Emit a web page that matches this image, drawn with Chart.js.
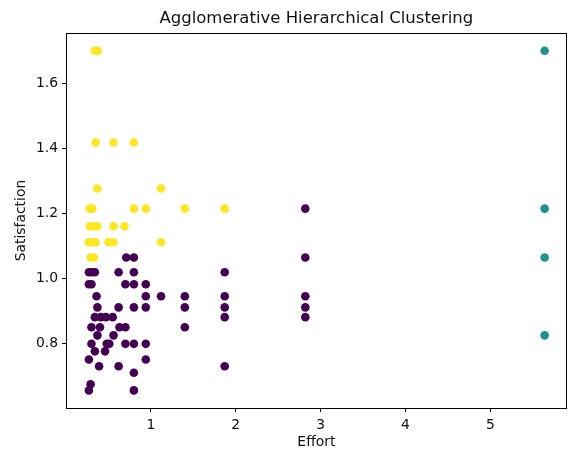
<!DOCTYPE html>
<html>
<head>
<meta charset="utf-8">
<script src="https://cdn.jsdelivr.net/npm/chart.js@4/dist/chart.umd.min.js"></script>
<style>
  html, body { margin: 0; padding: 0; background: #fff; }
  #wrap { width: 571px; height: 449px; }
</style>
</head>
<body>
<div id="wrap"><canvas id="chart"></canvas></div>
<script>
// cluster 0 (purple)
const effort0 = [0.71, 0.80, 2.82, 2.82,
  0.27, 0.30, 0.34, 0.62, 0.80, 1.87,
  0.27, 0.30, 0.70, 0.80, 0.94,
  0.36, 0.94, 1.12, 1.40, 1.87, 2.82,
  0.37, 0.62, 0.80, 0.94, 1.40, 1.87, 2.82,
  0.34, 0.41, 0.47, 0.55, 1.87, 2.82,
  0.30, 0.40, 0.63, 0.70, 1.40,
  0.37, 0.56,
  0.30, 0.48, 0.51, 0.70, 0.80, 0.94,
  0.34, 0.46,
  0.27, 0.94,
  0.39, 0.62, 1.87,
  0.80,
  0.29,
  0.27, 0.80];
const satisfaction0 = [1.065, 1.065, 1.065, 1.215,
  1.02, 1.02, 1.02, 1.02, 1.02, 1.02,
  0.983, 0.983, 0.983, 0.983, 0.983,
  0.946, 0.946, 0.946, 0.946, 0.946, 0.946,
  0.912, 0.912, 0.912, 0.912, 0.912, 0.912, 0.912,
  0.882, 0.882, 0.882, 0.882, 0.882, 0.882,
  0.851, 0.851, 0.851, 0.851, 0.851,
  0.826, 0.826,
  0.80, 0.80, 0.80, 0.80, 0.80, 0.80,
  0.777, 0.777,
  0.752, 0.752,
  0.731, 0.731, 0.731,
  0.711,
  0.676,
  0.657, 0.657];

// cluster 1 (teal)
const effort1 = [5.64, 5.64, 5.64, 5.64];
const satisfaction1 = [1.70, 1.215, 1.065, 0.826];

// cluster 2 (yellow)
const effort2 = [0.34, 0.375,
  0.35, 0.56, 0.80,
  0.37, 1.12,
  0.28, 0.31, 0.80, 0.94, 1.40, 1.87,
  0.28, 0.33, 0.37, 0.56, 0.69,
  0.27, 0.31, 0.35, 0.50, 0.56, 1.12,
  0.29, 0.33];
const satisfaction2 = [1.70, 1.70,
  1.418, 1.418, 1.418,
  1.277, 1.277,
  1.215, 1.215, 1.215, 1.215, 1.215, 1.215,
  1.161, 1.161, 1.161, 1.161, 1.161,
  1.112, 1.112, 1.112, 1.112, 1.112, 1.112,
  1.065, 1.065];

const xTicks = [1, 2, 3, 4, 5];
const yTicks = [0.8, 1.0, 1.2, 1.4, 1.6];
const colors = ['#440154', '#21918c', '#fde725'];

function toPoints(xs, ys) {
  return xs.map((x, i) => ({ x: x, y: ys[i] }));
}

const frame = {
  id: 'frame',
  afterDatasetsDraw(chart) {
    const a = chart.chartArea;
    const ctx = chart.ctx;
    ctx.save();
    ctx.strokeStyle = '#000';
    ctx.lineWidth = 1;
    ctx.strokeRect(Math.round(a.left) + 0.5, Math.round(a.top) + 0.5,
      Math.round(a.right - a.left) - 1, Math.round(a.bottom - a.top));
    ctx.restore();
  }
};

const font = 'DejaVu Sans';
const ctx = document.getElementById('chart').getContext('2d');
new Chart(ctx, {
  type: 'scatter',
  data: {
    datasets: [
      { data: toPoints(effort0, satisfaction0), backgroundColor: colors[0] },
      { data: toPoints(effort1, satisfaction1), backgroundColor: colors[1] },
      { data: toPoints(effort2, satisfaction2), backgroundColor: colors[2] }
    ]
  },
  options: {
    responsive: true,
    maintainAspectRatio: false,
    animation: false,
    layout: { padding: { top: 0, right: 2, bottom: 0, left: 0 } },
    elements: { point: { radius: 4.3, borderWidth: 0, hoverRadius: 4.3 } },
    plugins: {
      legend: { display: false },
      tooltip: { enabled: false },
      title: {
        display: true,
        fullSize: false,
        text: 'Agglomerative Hierarchical Clustering',
        color: '#111',
        font: { family: font, size: 16.5, weight: 'normal', lineHeight: 1.2 },
        padding: { top: 9.3, bottom: 4 }
      }
    },
    scales: {
      x: {
        type: 'linear',
        min: 0,
        max: 5.90,
        afterBuildTicks: s => { s.ticks = xTicks.map(v => ({ value: v })); },
        afterFit: s => { s.height = 41; },
        grid: { drawOnChartArea: false, drawTicks: true, tickLength: 4, color: '#000' },
        border: { display: true, color: '#000' },
        ticks: {
          color: '#111',
          padding: 5,
          font: { family: font, size: 13.9 },
          callback: v => String(v)
        },
        title: {
          display: true,
          text: 'Effort',
          color: '#111',
          font: { family: font, size: 13.9, lineHeight: 1 },
          padding: { top: 0, bottom: 0 }
        }
      },
      y: {
        type: 'linear',
        min: 0.603,
        max: 1.754,
        afterBuildTicks: s => { s.ticks = yTicks.map(v => ({ value: v })); },
        afterFit: s => { s.width = 66; },
        grid: { drawOnChartArea: false, drawTicks: true, tickLength: 4, color: '#000' },
        border: { display: true, color: '#000' },
        ticks: {
          color: '#111',
          padding: 4,
          font: { family: font, size: 13.9 },
          callback: v => v.toFixed(1)
        },
        title: {
          display: true,
          text: 'Satisfaction',
          color: '#111',
          font: { family: font, size: 13.9, lineHeight: 1 },
          padding: { top: 14, bottom: 0 }
        }
      }
    }
  },
  plugins: [frame]
});
</script>
</body>
</html>
